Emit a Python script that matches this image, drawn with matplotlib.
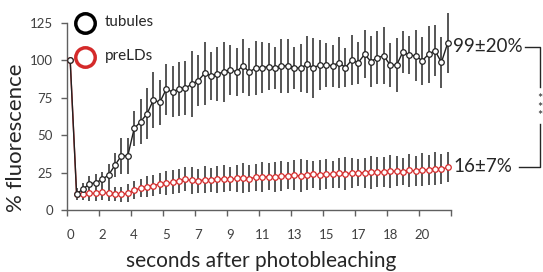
import matplotlib
matplotlib.use("Agg")
import matplotlib.pyplot as plt
from matplotlib.lines import Line2D
import numpy as np

plt.rcParams['font.family'] = ['Lato', 'DejaVu Sans']

tick_labels = ['0', '2', '4', '5', '7', '9', '11', '13', '15', '17', '18', '20']

tubules = [100, 10.7, 14, 17.4, 18.3, 20.5, 23.4, 30, 36.3, 36.3,
           54.5, 59, 64.3, 73.5, 72, 80.7, 79, 80.9, 81.5, 84.2,
           86.5, 91.3, 89.8, 90.7, 92.5, 93.6, 92.5, 96.5, 92.1, 95.2,
           95.2, 95.9, 94.8, 96.5, 96.3, 95.2, 94.8, 97.4, 95.2, 96.9,
           96.9, 96.5, 98.5, 95.2, 100.3, 98.5, 104.1, 99.2, 101.9, 103,
           96.9, 96.9, 105.8, 103.6, 103, 99.8, 104.1, 106.5, 98.7, 111.8]
tubules_err = [0, 3, 4, 5.5, 5.5, 5, 7.5, 8, 12, 12,
               12, 15, 17, 19, 15, 17, 17, 18, 18, 22,
               17, 21, 16, 18, 20, 17, 16, 18, 16, 18,
               17, 16, 14, 18, 18, 14, 16, 19, 20, 17,
               15, 14, 17, 13, 17, 14, 16, 17, 18, 19,
               15, 18, 14, 13, 17, 16, 19, 17, 17, 20]

prelds = [100, 10.5, 10.5, 11.1, 11.1, 11.8, 11.1, 10.7, 10.5, 11.1,
          13.4, 14.5, 15.6, 16.3, 17.4, 17.8, 18.5, 19.6, 20.5, 19.8,
          19.5, 20.2, 20, 20.5, 20.8, 20.5, 21.2, 21.5, 21, 21.8,
          22, 22.3, 21.8, 22.5, 23, 23.2, 22.8, 23.5, 24, 23.6,
          23.8, 24, 24.5, 24.3, 24.6, 25, 24.8, 25.2, 25.5, 25.3,
          25.8, 26, 25.7, 26.5, 26.2, 27, 26.8, 27.5, 27.3, 28.5]
prelds_err = [0, 4, 4, 5, 5, 5, 5, 5, 5, 6,
              6, 6, 7, 7, 7, 8, 8, 8, 8, 9,
              8, 9, 8, 9, 9, 8, 9, 10, 9, 9,
              10, 9, 10, 10, 9, 10, 11, 10, 9, 10,
              10, 9, 10, 11, 10, 9, 10, 11, 10, 10,
              11, 10, 9, 11, 10, 11, 10, 11, 10, 10]

W, H = 543, 272
fig = plt.figure(figsize=(W / 100, H / 100), dpi=100)
ax = fig.add_axes([67 / W, 1 - 210 / H, (451 - 67) / W, (210 - 23) / H])

x = np.arange(len(tubules))
ebc = '#555555'
ax.errorbar(x, prelds, yerr=prelds_err, fmt='none', ecolor=ebc, elinewidth=1.4,
            capsize=0, zorder=2, clip_on=False)
ax.errorbar(x, tubules, yerr=tubules_err, fmt='none', ecolor=ebc, elinewidth=1.4,
            capsize=0, zorder=2, clip_on=False)
ax.plot(x, prelds, '-o', color='#d42a2a', lw=1.0, ms=4, mfc='white',
        mec='#d42a2a', mew=0.9, zorder=4, clip_on=False)
ax.plot(x, tubules, '-o', color='#222222', lw=1.0, ms=4, mfc='white',
        mec='#222222', mew=0.9, zorder=5, clip_on=False)

ax.set_xlim(-0.5, 59.5)
ax.set_ylim(0, 125)
ax.set_yticks([0, 25, 50, 75, 100, 125])
ax.set_xticks(np.arange(-0.5, 60, 5))
ax.set_xticklabels([])
ax.set_xticks(np.arange(0, 60, 5), minor=True)
ax.set_xticklabels(tick_labels, minor=True)
ax.tick_params(axis='x', which='minor', length=0, pad=14, labelsize=9.5, labelcolor='#404040')
ax.tick_params(axis='x', which='major', length=4, width=1, color='#606060', direction='out')
ax.tick_params(axis='y', length=4, width=1, color='#606060', direction='out',
               labelsize=9.5, labelcolor='#404040', pad=6)
for s in ['top', 'right']:
    ax.spines[s].set_visible(False)
for s in ['left', 'bottom']:
    ax.spines[s].set_color('#606060')
    ax.spines[s].set_linewidth(1.0)

fig.text(261 / W, 1 - 261 / H, 'seconds after photobleaching', ha='center', va='center',
         fontsize=15, color='#262626')
fig.text(16 / W, 1 - 138 / H, '% fluorescence', ha='center', va='center', rotation=90,
         fontsize=16, color='#262626')

# legend
fig.add_artist(Line2D([85 / W], [1 - 23 / H], marker='o', ms=14, mfc='none', mec='black',
                      mew=2.5, transform=fig.transFigure))
fig.add_artist(Line2D([85 / W], [1 - 57 / H], marker='o', ms=14, mfc='none', mec='#d42a2a',
                      mew=2.5, transform=fig.transFigure))
fig.text(105 / W, 1 - 22 / H, 'tubules', ha='left', va='center', fontsize=11, color='#262626')
fig.text(105 / W, 1 - 56 / H, 'preLDs', ha='left', va='center', fontsize=11, color='#262626')

# end labels and bracket
fig.text(453 / W, 1 - 47 / H, '99±20%', ha='left', va='center', fontsize=13.5, color='#262626')
fig.text(453 / W, 1 - 167 / H, '16±7%', ha='left', va='center', fontsize=13.5, color='#262626')
bx = 539.5
fig.add_artist(Line2D([525 / W, bx / W, bx / W], [1 - 47 / H, 1 - 47 / H, 1 - 87 / H],
                      color='#262626', lw=1.0, transform=fig.transFigure))
fig.add_artist(Line2D([519 / W, bx / W, bx / W], [1 - 167 / H, 1 - 167 / H, 1 - 124 / H],
                      color='#262626', lw=1.0, transform=fig.transFigure))
fig.text(bx / W, 1 - 108 / H, '*\n*\n*', ha='center', va='center', fontsize=9,
         linespacing=0.65, color='#262626')

fig.savefig('out.png', dpi=100)
